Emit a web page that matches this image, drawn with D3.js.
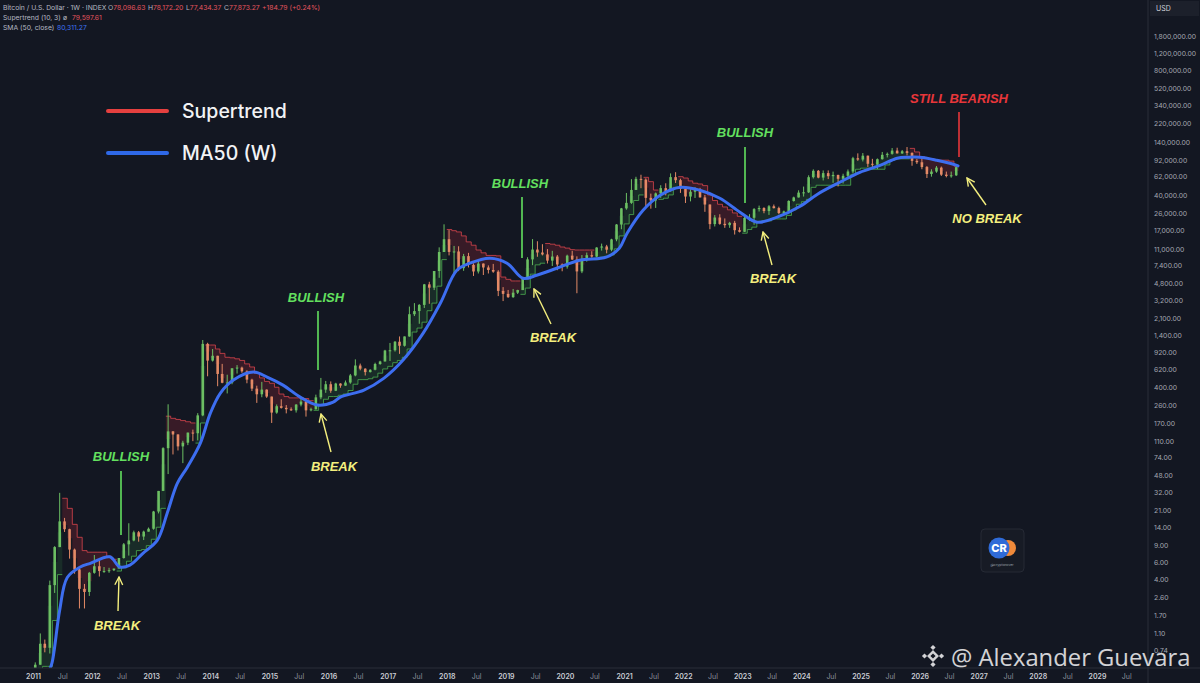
<!DOCTYPE html>
<html>
<head>
<meta charset="utf-8">
<script src="https://cdn.jsdelivr.net/npm/d3@7"></script>
<style>
  html, body { margin: 0; padding: 0; background: #131722; }
  svg { display: block; }
</style>
</head>
<body>
<div id="chart"></div>
<script>
// monthly candles, Jan 2011 -> Aug 2026
const firstOpen = 0.30;
const high = [
  0.55, 1.10, 0.95, 3.9, 8.9, 31.9, 17.5, 13.5, 8.4, 5.2, 3.6, 4.8,
  7.2, 6.3, 5.4, 5.3, 5.2, 6.7, 9.6, 15.4, 12.9, 12.8, 12.9, 13.9,
  20.7, 33.4, 95, 266, 140, 130, 111, 135, 145, 215, 1240, 1160,
  1000, 850, 700, 540, 630, 680, 655, 600, 490, 415, 455, 380,
  320, 265, 300, 261, 247, 267, 315, 285, 245, 335, 500, 465,
  460, 445, 440, 470, 550, 780, 705, 630, 615, 720, 755, 980,
  1155, 1210, 1350, 1350, 2760, 3000, 2930, 4750, 5000, 6470, 11400, 19800,
  17250, 11800, 11700, 9750, 9990, 7770, 8500, 7760, 7400, 7670, 6600, 4400,
  4110, 4210, 4130, 5600, 9000, 13900, 13200, 12300, 10950, 10500, 9500, 7750,
  9570, 10500, 9200, 9480, 10070, 10400, 11450, 12470, 12100, 14000, 19900, 29300,
  41950, 58350, 61800, 64900, 59500, 41300, 42400, 50500, 52900, 67000, 69000, 59000,
  47900, 45800, 48200, 47400, 40000, 31900, 24700, 25200, 22800, 21000, 21500, 18400,
  23900, 25250, 29200, 31000, 29800, 31400, 31800, 30200, 27500, 35200, 38400, 44700,
  48900, 64000, 73800, 72700, 71900, 72000, 70000, 65000, 66500, 73600, 99600, 108300,
  109100, 102800, 95000, 95800, 112000, 110500, 123000, 124000, 117500, 126000, 111000, 94500,
  97000, 80000, 74000, 80000, 79000, 70000, 70000, 79200
];
const low = [
  0.29, 0.52, 0.70, 0.68, 2.9, 8.7, 12.5, 6.6, 4.6, 2.0, 2.0, 2.7,
  4.6, 4.3, 4.7, 4.7, 4.9, 5.2, 6.6, 7.1, 10.0, 9.9, 10.3, 12.6,
  13.2, 19.5, 33.3, 50, 80, 88, 65, 100, 110, 112, 200, 520,
  740, 410, 440, 345, 430, 555, 565, 440, 365, 275, 315, 310,
  170, 212, 240, 214, 227, 218, 253, 198, 225, 235, 300, 350,
  350, 365, 395, 414, 435, 520, 600, 530, 570, 600, 685, 740,
  750, 940, 890, 1060, 1340, 2200, 1830, 2670, 2950, 4100, 5500, 10800,
  9400, 6000, 6450, 6500, 7050, 5750, 6100, 5880, 6100, 6200, 3550, 3150,
  3400, 3400, 3730, 4100, 5330, 7450, 9100, 9400, 7750, 7300, 6600, 6430,
  6850, 8450, 3800, 6150, 8100, 8900, 8970, 10550, 9880, 10400, 13200, 17600,
  28100, 32300, 45000, 47000, 30000, 28800, 29300, 37300, 39600, 43300, 53300, 42000,
  33000, 34300, 37200, 37700, 26700, 17600, 18800, 19600, 18200, 18200, 15500, 16300,
  16500, 21400, 19600, 26900, 25800, 24800, 28900, 25200, 24900, 26600, 34100, 37600,
  38500, 41900, 59300, 59600, 56600, 58500, 53500, 49000, 52600, 58900, 66800, 90500,
  89200, 78200, 76600, 74400, 93300, 98200, 105000, 108000, 107000, 103000, 80500, 84000,
  74000, 60000, 62000, 68000, 63000, 61000, 60500, 63000
];
const close = [
  0.52, 0.86, 0.78, 3.5, 8.7, 16.1, 13.35, 8.2, 5.1, 3.2, 2.97, 4.7,
  5.5, 4.9, 4.9, 5.0, 5.2, 6.7, 9.3, 10.2, 12.4, 11.2, 12.6, 13.5,
  20.4, 33.4, 93, 139, 129, 97, 106, 135, 133, 204, 1130, 757,
  850, 550, 445, 448, 630, 640, 585, 480, 387, 338, 378, 320,
  218, 254, 244, 236, 230, 264, 284, 230, 236, 314, 378, 430,
  368, 437, 416, 448, 531, 673, 624, 575, 608, 698, 742, 964,
  970, 1190, 1080, 1350, 2300, 2480, 2875, 4700, 4340, 6470, 10200, 13860,
  10220, 10330, 6930, 9240, 7490, 6400, 7730, 7040, 6630, 6370, 4020, 3740,
  3460, 3850, 4100, 5350, 8550, 10820, 10080, 9630, 8300, 9150, 7570, 7190,
  9350, 8520, 6410, 8620, 9450, 9140, 11350, 11650, 10780, 13800, 19700, 29000,
  33100, 45100, 58800, 57700, 37300, 35000, 41500, 47100, 43800, 61300, 57000, 46300,
  38500, 43200, 45500, 37700, 31800, 19900, 23300, 20000, 19400, 20500, 17200, 16550,
  23100, 23150, 28500, 29250, 27200, 30500, 29200, 25940, 26970, 34650, 37700, 42300,
  42600, 61200, 71300, 60600, 67500, 62700, 64600, 58900, 63300, 70200, 96400, 93400,
  102400, 84400, 82500, 94200, 104600, 107100, 115700, 108200, 114000, 109500, 90400, 87500,
  78000, 66000, 70000, 77000, 65000, 63000, 64000, 77900
];

// supertrend (10, 3) level per month and side (G = bullish, R = bearish)
const stValue = [
  0.22, 0.42, 0.5, 0.5, 1.5, 4.5, 28, 22, 15, 11, 8, 7.7,
  7.7, 7.7, 7.7, 7.0, 6.5, 4.9, 5.3, 6.2, 7.0, 8.0, 8.2, 9.0,
  10.5, 14, 22, 200, 190, 185, 180, 175, 170, 105, 170, 1100,
  1100, 1000, 900, 820, 810, 790, 760, 700, 650, 560, 500, 460,
  440, 400, 340, 320, 310, 310, 310, 305, 290, 230, 260, 300,
  320, 320, 330, 340, 370, 430, 480, 480, 490, 510, 560, 620,
  660, 720, 760, 820, 1000, 1500, 1650, 1900, 2500, 3000, 4500, 8500,
  17500, 17000, 16500, 15000, 13000, 12000, 10700, 10000, 9400, 9400, 9300, 5600,
  5300, 5100, 5100, 3700, 4300, 6000, 7500, 7800, 12500, 12300, 12000, 11500,
  11200, 10800, 10700, 10700, 10700, 10700, 8500, 9000, 9200, 9500, 11000, 15000,
  20000, 25000, 35000, 40000, 61000, 55000, 45000, 36000, 37000, 40000, 48000, 62000,
  60000, 56000, 53000, 52000, 50000, 40000, 35000, 32000, 30000, 28000, 26000, 24000,
  16000, 17500, 18500, 21000, 21500, 21500, 22500, 22500, 22500, 24500, 28000, 32000,
  34000, 36000, 48000, 50500, 50500, 50500, 50500, 50500, 50500, 50500, 65000, 74000,
  76000, 76000, 74000, 74000, 74000, 82000, 92000, 95000, 95000, 95000, 122000, 112000,
  100000, 97000, 95000, 93000, 92000, 92000, 90000, 79600
];
const stSide = (
  "GGGGGGRRRRRR" + "RRRRRGGGGGGG" + "GGGRRRRRRGGR" + "RRRRRRRRRRRR" +
  "RRRRRRRRRGGG" + "GGGGGGGGGGGG" + "GGGGGGGGGGGG" + "RRRRRRRRRRRR" +
  "RRRGGGGGRRRR" + "RRRRRRGGGGGG" + "GGGGRRRGGGGR" + "RRRRRRRRRRRR" +
  "GGGGGGGGGGGG" + "GGGGGGGGGGGG" + "GGGGGGGGGGRR" + "RRRRRRRR"
).split("");

// 50-week SMA, read at points along the blue curve (decimal year, price)
const maYear = [
  2011.25, 2011.32, 2011.45, 2011.58, 2011.80, 2011.97, 2012.30, 2012.47, 2012.64, 2012.86,
  2013.10, 2013.27, 2013.44, 2013.61, 2013.83, 2014.00, 2014.17, 2014.39, 2014.73, 2014.96,
  2015.23, 2015.52, 2015.81, 2016.08, 2016.20, 2016.60, 2016.94, 2017.26, 2017.60, 2017.89,
  2018.17, 2018.39, 2018.73, 2019.02, 2019.29, 2019.52, 2019.86, 2020.25, 2020.70, 2020.92,
  2021.05, 2021.32, 2021.61, 2021.95, 2022.28, 2022.62, 2022.96, 2023.25, 2023.59, 2023.98,
  2024.28, 2024.65, 2024.99, 2025.33, 2025.62, 2025.80, 2026.00, 2026.29, 2026.51, 2026.65
];
const maValue = [
  0.42, 0.54, 1.9, 4.2, 5.4, 5.9, 6.9, 5.4, 5.65, 7.5,
  10.2, 19.7, 40, 59, 105, 215, 348, 475, 575, 510,
  421, 316, 261, 280, 316, 374, 498, 767, 1460, 2990,
  6590, 7800, 8800, 7800, 5440, 5840, 6910, 8390, 9010, 11170,
  16000, 27700, 39700, 48100, 44800, 37000, 26500, 20800, 23500, 30500,
  41000, 54200, 68800, 81200, 96300, 98600, 98600, 91900, 85400, 80300
];

const priceTicks = [
  1800000, 1200000, 800000, 520000, 340000, 220000, 140000, 92000, 62000, 40000,
  26000, 17000, 11000, 7400, 4800, 3200, 2100, 1400, 920, 620, 400, 260, 170, 110,
  74, 48, 32, 21, 14, 9, 6, 4, 2.6, 1.7, 1.1, 0.74
];
const yearTicks = d3.range(2011, 2030);

// annotation labels with their marker line or arrow (pixel positions)
const notes = [
  { text: "BULLISH", color: "#63e05f", x: 121, y: 461, mark: [121, 471, 121, 535] },
  { text: "BULLISH", color: "#63e05f", x: 316, y: 302, mark: [318, 311, 318, 370] },
  { text: "BULLISH", color: "#63e05f", x: 520, y: 188, mark: [522, 197, 522, 258] },
  { text: "BULLISH", color: "#63e05f", x: 745, y: 137, mark: [745, 147, 745, 203] },
  { text: "STILL BEARISH", color: "#e8363a", x: 959, y: 103, mark: [959, 112, 959, 157] },
  { text: "BREAK", color: "#f4ef7e", x: 117, y: 630, arrow: [118, 611, 119, 577] },
  { text: "BREAK", color: "#f4ef7e", x: 334, y: 471, arrow: [331, 452, 321, 414] },
  { text: "BREAK", color: "#f4ef7e", x: 553, y: 342, arrow: [551, 324, 534, 289] },
  { text: "BREAK", color: "#f4ef7e", x: 773, y: 283, arrow: [772, 265, 763, 232] },
  { text: "NO BREAK", color: "#f4ef7e", x: 987, y: 223, arrow: [986, 205, 967, 178] }
];

const width = 1200;
const height = 683;
const plotRight = 1148;
const plotBottom = 668;

const svg = d3
  .select("#chart")
  .append("svg")
  .attr("width", width)
  .attr("height", height)
  .style("background", "#131722");

const x = d3
  .scaleUtc()
  .domain([new Date(Date.UTC(2011, 0, 1)), new Date(Date.UTC(2029, 0, 1))])
  .range([33, 1097]);

const y = d3.scaleLog().domain([0.74, 1800000]).range([650, 36]);

const yearToDate = (yr) => {
  const y0 = Math.floor(yr);
  return new Date(Date.UTC(y0, 0, 1) + (yr - y0) * 365.25 * 864e5);
};

const candles = close.map((c, i) => {
  const o = i ? close[i - 1] : firstOpen;
  return {
    date: new Date(Date.UTC(2011, i, 15)),
    start: new Date(Date.UTC(2011, i, 1)),
    end: new Date(Date.UTC(2011, i + 1, 1)),
    o: o,
    h: high[i],
    l: low[i],
    c: c,
    mid: (o + c) / 2,
    st: stValue[i],
    side: stSide[i]
  };
});

svg
  .append("defs")
  .append("clipPath")
  .attr("id", "plot-clip")
  .append("rect")
  .attr("width", plotRight)
  .attr("height", plotBottom);

const plot = svg.append("g").attr("clip-path", "url(#plot-clip)");

// supertrend runs
const runs = [];
candles.forEach((d) => {
  const last = runs[runs.length - 1];
  if (last && last.side === d.side) last.pts.push(d);
  else runs.push({ side: d.side, pts: [d] });
});
runs.forEach((r) => {
  const tail = r.pts[r.pts.length - 1];
  r.pts = r.pts.map((d) => ({ date: d.start, st: d.st, mid: d.mid }));
  r.pts.push({ date: tail.end, st: tail.st, mid: tail.mid });
});

const stArea = d3
  .area()
  .curve(d3.curveStepAfter)
  .x((d) => x(d.date))
  .y0((d) => y(d.st))
  .y1((d) => y(d.mid));

const stLine = d3
  .line()
  .curve(d3.curveStepAfter)
  .x((d) => x(d.date))
  .y((d) => y(d.st));

plot
  .selectAll("path.st-fill")
  .data(runs)
  .enter()
  .append("path")
  .attr("class", "st-fill")
  .attr("d", (r) => stArea(r.pts))
  .attr("fill", (r) => (r.side === "G" ? "rgba(60,170,80,0.15)" : "rgba(190,45,60,0.22)"));

plot
  .selectAll("path.st-line")
  .data(runs)
  .enter()
  .append("path")
  .attr("class", "st-line")
  .attr("d", (r) => stLine(r.pts))
  .attr("fill", "none")
  .attr("stroke", (r) => (r.side === "G" ? "#4caf50" : "#d8454c"))
  .attr("stroke-opacity", 0.8)
  .attr("stroke-width", 1);

// candles
const upColor = "#6cbf63";
const downColor = "#e48a66";
const cg = plot
  .selectAll("g.candle")
  .data(candles)
  .enter()
  .append("g")
  .attr("class", "candle");

cg.append("line")
  .attr("x1", (d) => x(d.date))
  .attr("x2", (d) => x(d.date))
  .attr("y1", (d) => y(d.h))
  .attr("y2", (d) => y(d.l))
  .attr("stroke", (d) => (d.c >= d.o ? upColor : downColor))
  .attr("stroke-width", 1);

cg.append("rect")
  .attr("x", (d) => x(d.date) - 1.3)
  .attr("width", 2.6)
  .attr("y", (d) => y(Math.max(d.o, d.c)))
  .attr("height", (d) => Math.max(1, Math.abs(y(d.o) - y(d.c))))
  .attr("fill", (d) => (d.c >= d.o ? upColor : downColor));

// 50 week SMA
const maPts = maYear.map((yr, i) => ({ date: yearToDate(yr), v: maValue[i] }));
plot
  .append("path")
  .datum(maPts)
  .attr("d", d3.line().curve(d3.curveCatmullRom.alpha(0.5)).x((d) => x(d.date)).y((d) => y(d.v)))
  .attr("fill", "none")
  .attr("stroke", "#3d6ef0")
  .attr("stroke-width", 3)
  .attr("stroke-linecap", "round");

// panels / axes
svg
  .append("line")
  .attr("x1", plotRight)
  .attr("x2", plotRight)
  .attr("y1", 0)
  .attr("y2", height)
  .attr("stroke", "#2a2e39");
svg
  .append("line")
  .attr("x1", 0)
  .attr("x2", width)
  .attr("y1", plotBottom)
  .attr("y2", plotBottom)
  .attr("stroke", "#2a2e39");

const yAxis = svg
  .append("g")
  .attr("transform", `translate(${plotRight + 2},0)`)
  .call(d3.axisRight(y).tickValues(priceTicks).tickSize(0).tickPadding(4).tickFormat(d3.format(",.2f")));
yAxis.select(".domain").remove();
yAxis
  .selectAll("text")
  .attr("fill", "#a3a7b1")
  .style("font-family", "Inter, 'Noto Sans', sans-serif")
  .style("font-size", "6.8px");

const xTickDates = [];
yearTicks.forEach((yr) => {
  xTickDates.push(new Date(Date.UTC(yr, 0, 1)));
  xTickDates.push(new Date(Date.UTC(yr, 6, 1)));
});
const xAxis = svg
  .append("g")
  .attr("transform", `translate(0,${plotBottom})`)
  .call(
    d3
      .axisBottom(x)
      .tickValues(xTickDates)
      .tickSize(0)
      .tickPadding(6)
      .tickFormat((d) => (d.getUTCMonth() === 0 ? d.getUTCFullYear() : "Jul"))
  );
xAxis.select(".domain").remove();
xAxis
  .selectAll("text")
  .attr("fill", (d) => (d.getUTCMonth() === 0 ? "#c9ccd4" : "#8c909b"))
  .style("font-weight", (d) => (d.getUTCMonth() === 0 ? "600" : "400"))
  .style("font-family", "Inter, 'Noto Sans', sans-serif")
  .style("font-size", "7px");

// USD box
svg.append("rect").attr("x", plotRight + 2).attr("y", 1).attr("width", 49).attr("height", 15).attr("fill", "#1c202b");
svg
  .append("text")
  .attr("x", 1156)
  .attr("y", 11)
  .attr("fill", "#d1d4dc")
  .style("font-family", "Inter, sans-serif")
  .style("font-size", "7px")
  .text("USD");

// header
const hdr = svg
  .append("g")
  .style("font-family", "Inter, 'Noto Sans', sans-serif")
  .style("font-size", "6.8px");
const h1 = hdr.append("text").attr("x", 3).attr("y", 10).attr("fill", "#b5b8c2");
h1.append("tspan").text("Bitcoin / U.S. Dollar · 1W · INDEX");
[["O", "78,096.63"], ["H", "78,172.20"], ["L", "77,434.37"], ["C", "77,873.27"]].forEach((p, i) => {
  h1.append("tspan").attr("x", [108, 148, 186, 224][i]).text(p[0]);
  h1.append("tspan").attr("fill", "#e5555e").text(p[1]);
});
h1.append("tspan").attr("x", 262).attr("fill", "#e5555e").text("+184.79 (+0.24%)");
const h2 = hdr.append("text").attr("x", 3).attr("y", 20).attr("fill", "#b5b8c2");
h2.append("tspan").text("Supertrend (10, 3)");
h2.append("tspan").attr("x", 63).text("ø");
h2.append("tspan").attr("x", 72).attr("fill", "#e5555e").text("79,597.61");
const h3 = hdr.append("text").attr("x", 3).attr("y", 30).attr("fill", "#b5b8c2");
h3.append("tspan").text("SMA (50, close)");
h3.append("tspan").attr("x", 57).attr("fill", "#3f73f0").text("80,311.27");

// legend
const legend = [
  { label: "Supertrend", color: "#e5403f", y: 111 },
  { label: "MA50 (W)", color: "#2f69e8", y: 153 }
];
const lg = svg.selectAll("g.legend").data(legend).enter().append("g").attr("class", "legend");
lg.append("line")
  .attr("x1", 108)
  .attr("x2", 167)
  .attr("y1", (d) => d.y)
  .attr("y2", (d) => d.y)
  .attr("stroke", (d) => d.color)
  .attr("stroke-width", 4)
  .attr("stroke-linecap", "round");
lg.append("text")
  .attr("x", 182)
  .attr("y", (d) => d.y + 7)
  .attr("fill", "#f2f3f5")
  .style("font-family", "Inter, 'Noto Sans', sans-serif")
  .style("font-weight", "500")
  .style("font-size", "19.5px")
  .text((d) => d.label);

// annotations
svg
  .append("defs")
  .append("marker")
  .attr("id", "arrow-head")
  .attr("viewBox", "0 0 10 10")
  .attr("refX", 9)
  .attr("refY", 5)
  .attr("markerWidth", 7)
  .attr("markerHeight", 7)
  .attr("orient", "auto")
  .append("path")
  .attr("d", "M1,1 L9,5 L1,9")
  .attr("fill", "none")
  .attr("stroke", "#f4ef7e")
  .attr("stroke-width", 1.4);

const ng = svg.selectAll("g.note").data(notes).enter().append("g").attr("class", "note");
ng.append("text")
  .attr("x", (d) => d.x)
  .attr("y", (d) => d.y)
  .attr("text-anchor", "middle")
  .attr("fill", (d) => d.color)
  .style("font-family", "'Liberation Sans', Arial, sans-serif")
  .style("font-weight", "bold")
  .style("font-style", "italic")
  .style("font-size", "13px")
  .text((d) => d.text);
ng.filter((d) => d.mark)
  .append("line")
  .attr("x1", (d) => d.mark[0])
  .attr("y1", (d) => d.mark[1])
  .attr("x2", (d) => d.mark[2])
  .attr("y2", (d) => d.mark[3])
  .attr("stroke", (d) => d.color)
  .attr("stroke-width", 1.6);
ng.filter((d) => d.arrow)
  .append("line")
  .attr("x1", (d) => d.arrow[0])
  .attr("y1", (d) => d.arrow[1])
  .attr("x2", (d) => d.arrow[2])
  .attr("y2", (d) => d.arrow[3])
  .attr("stroke", (d) => d.color)
  .attr("stroke-width", 1.4)
  .attr("marker-end", "url(#arrow-head)");

// small channel logo
const logo = svg.append("g").attr("transform", "translate(981,529)");
logo.append("rect").attr("width", 43).attr("height", 43).attr("rx", 4).attr("fill", "#171b25").attr("stroke", "#262a35");
logo.append("circle").attr("cx", 27).attr("cy", 19).attr("r", 8).attr("fill", "#f08a3a");
logo.append("circle").attr("cx", 18).attr("cy", 19).attr("r", 10.5).attr("fill", "#2f6bd8");
logo
  .append("text")
  .attr("x", 18)
  .attr("y", 23)
  .attr("text-anchor", "middle")
  .attr("fill", "#fff")
  .style("font-family", "Inter, sans-serif")
  .style("font-weight", "800")
  .style("font-size", "11px")
  .text("CR");
logo
  .append("text")
  .attr("x", 21)
  .attr("y", 37)
  .attr("text-anchor", "middle")
  .attr("fill", "#9aa0aa")
  .style("font-family", "Inter, sans-serif")
  .style("font-size", "3.6px")
  .text("@cryptorover");

// watermark
const wm = svg.append("g").attr("fill", "#e4e4e6").attr("opacity", 0.92);
const diamond = (cx, cy, r) => `M${cx},${cy - r}L${cx + r},${cy}L${cx},${cy + r}L${cx - r},${cy}Z`;
wm.append("path")
  .attr("d", diamond(933, 656, 6) + diamond(933, 656, 2.6))
  .attr("fill-rule", "evenodd");
[[-8.5, 0], [8.5, 0], [0, -8.5], [0, 8.5]].forEach((o) => {
  wm.append("path").attr("d", diamond(933 + o[0], 656 + o[1], 2.6));
});
wm.append("text")
  .attr("x", 951)
  .attr("y", 666)
  .style("font-family", "'Open Sans', 'Noto Sans', sans-serif")
  .style("font-size", "23.8px")
  .text("@ Alexander Guevara");
</script>
</body>
</html>
